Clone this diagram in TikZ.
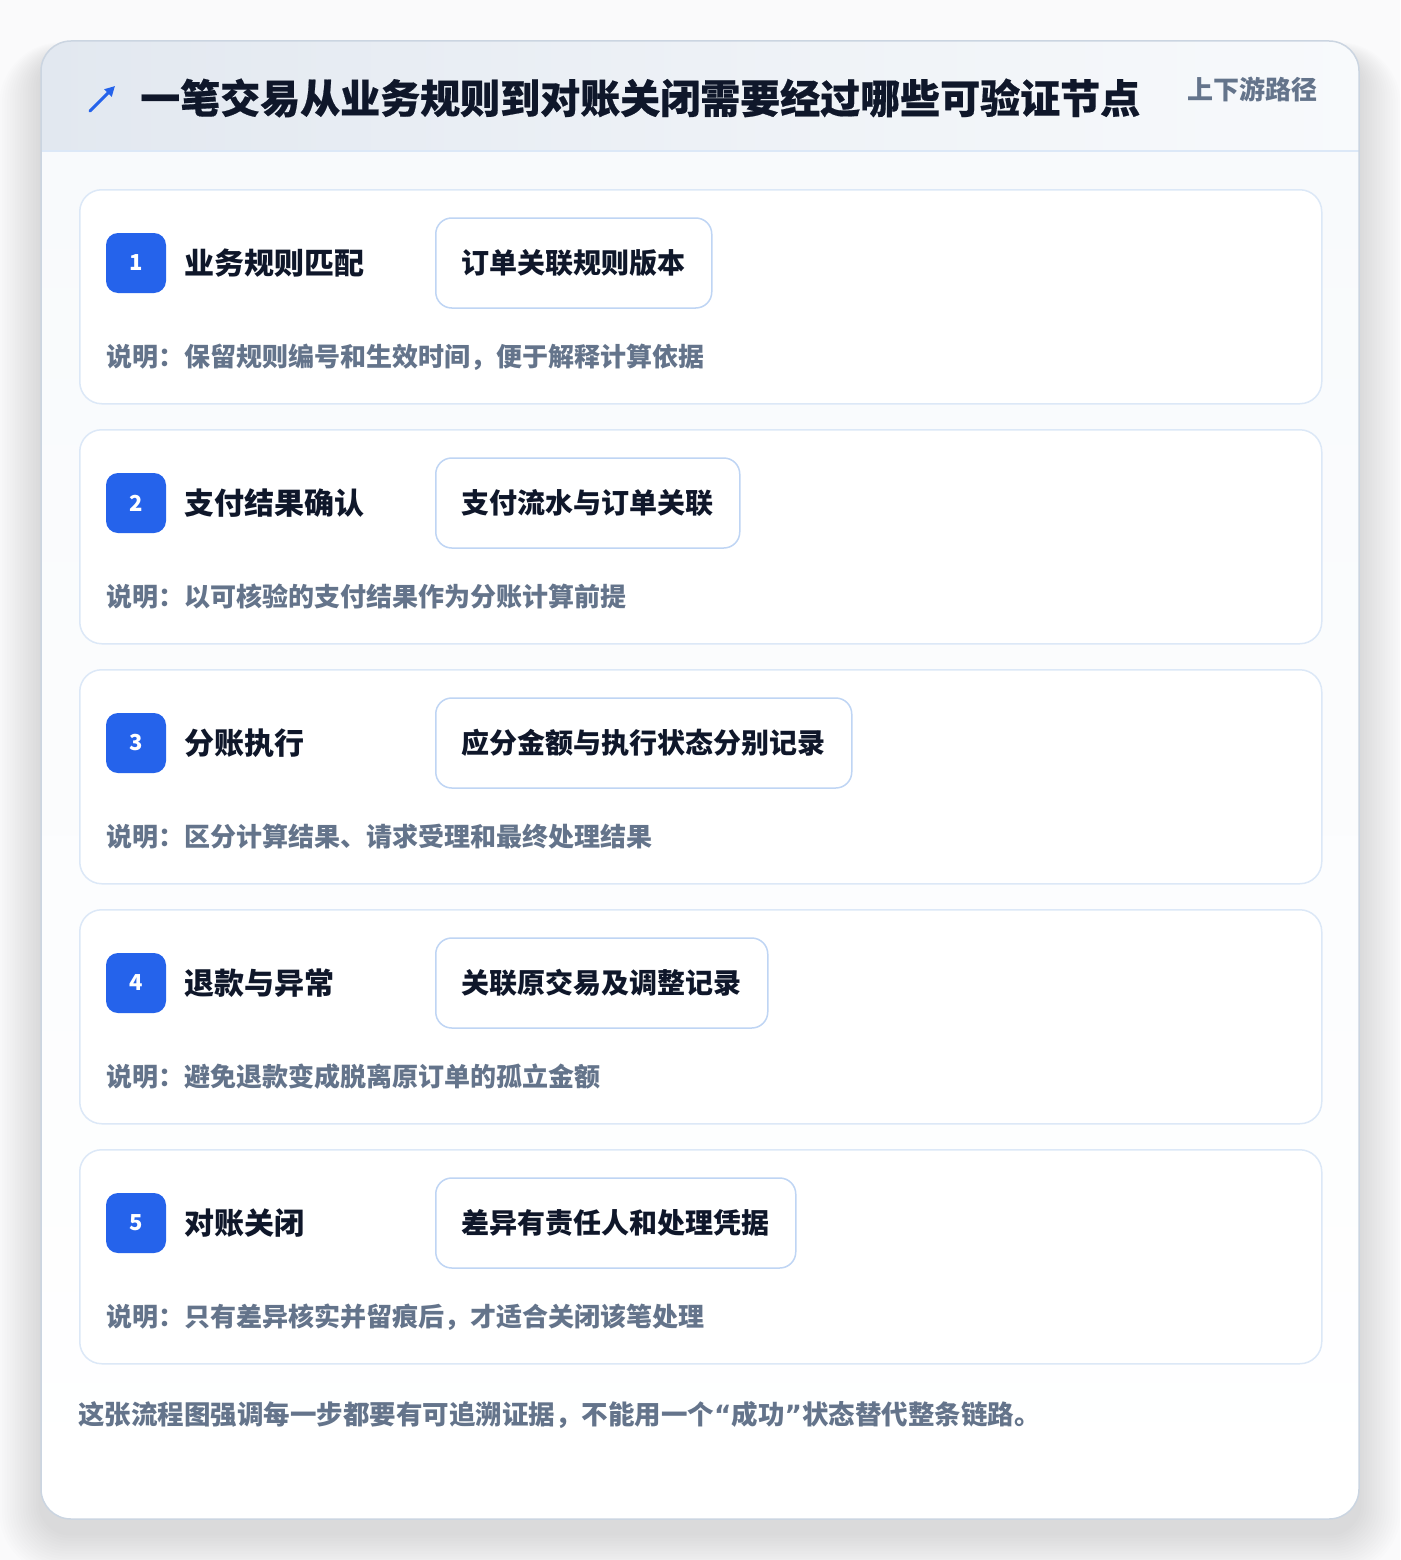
\documentclass[tikz,border=0pt]{standalone}
\usepackage{fontspec}
\setmainfont{Noto Sans CJK SC}
\newfontfamily\heavy{Noto Sans CJK SC}[BoldFeatures={FakeBold=0.5}]
\newfontfamily\symfont{DejaVu Sans}
\usetikzlibrary{arrows.meta}
\definecolor{ink}{HTML}{0F172A}
\definecolor{muted}{HTML}{64748B}
\definecolor{accent}{HTML}{2563EB}
\definecolor{cardline}{HTML}{DCE8F7}
\definecolor{chipline}{HTML}{BFD5F4}
\definecolor{bodybg}{HTML}{F8FAFC}
\definecolor{headL}{HTML}{E2E8F0}
\definecolor{headR}{HTML}{F8FAFC}
\definecolor{outline}{HTML}{CBD5E1}
\definecolor{pagebg}{HTML}{FAFAFB}
\tikzset{
  stepcard/.style={draw=cardline, line width=1.5pt, fill=white, rounded corners=22pt, inner sep=0pt, minimum width=1242pt, minimum height=214pt, anchor=north west},
  badgebox/.style={fill=accent, rounded corners=12pt, minimum width=60pt, minimum height=60pt, inner sep=0pt, text=white, font=\bfseries\fontsize{22pt}{24pt}\selectfont},
  steptitle/.style={anchor=west, inner sep=0pt, text=ink, font=\bfseries\fontsize{30pt}{32pt}\selectfont},
  chipbox/.style={anchor=west, draw=chipline, line width=1.5pt, fill=white, rounded corners=16pt, minimum height=90pt, inner xsep=26pt, text=ink, font=\bfseries\fontsize{28pt}{30pt}\selectfont},
  desctext/.style={anchor=west, inner sep=0pt, text=muted, font=\bfseries\fontsize{26pt}{28pt}\selectfont},
}
\newcommand{\stepcard}[5]{%
  \node[stepcard] (card#1) at (79,#2) {};
  \node[badgebox] (badge#1) at (136,#2+74) {#1};
  \node[steptitle] (title#1) at (184,#2+74) {#3};
  \node[chipbox] (chip#1) at (435,#2+74) {#4};
  \node[desctext] (desc#1) at (106,#2+168) {说明：#5};
}
\begin{document}
\begin{tikzpicture}[x=1pt, y=-1pt]
\useasboundingbox (0,0) rectangle (1400,1560);
\fill[pagebg] (0,0) rectangle (1400,1560);
% card shadow (soft, stronger below)
\foreach \k in {1,...,16}{
  \fill[black, opacity=0.007, rounded corners=30pt+\k*2pt] (41-\k*2.6,41-\k*0.8+14) rectangle (1359+\k*2.6,1519+\k*2.6+14);
}
% main card
\fill[white, rounded corners=30pt] (41,41) rectangle (1359,1519);
\begin{scope}
  \clip[rounded corners=30pt] (41,41) rectangle (1359,1519);
  \shade[top color=bodybg, bottom color=white] (41,151) rectangle (1359,1519);
  \shade[left color=headL, right color=headR] (41,41) rectangle (1359,151);
  \draw[cardline, line width=1.5pt] (41,151) -- (1359,151);
\end{scope}
\draw[outline, line width=1.5pt, rounded corners=30pt] (41,41) rectangle (1359,1519);
% header icon
\coordinate (iconA) at (90,111);
\coordinate (iconB) at (115,86);
\draw[accent, line width=3pt, line cap=round, -{Triangle[length=10pt, width=10pt]}] (iconA) -- (iconB);
\node[anchor=west, inner sep=0pt, text=ink, font=\heavy\bfseries\fontsize{40pt}{42pt}\selectfont] (title) at (140,98) {一笔交易从业务规则到对账关闭需要经过哪些可验证节点};
\node[anchor=east, inner sep=0pt, text=muted, font=\bfseries\fontsize{26pt}{28pt}\selectfont] (tag) at (1318,89) {上下游路径};
% chip shadows
\foreach \y/\w in {262/278,502/306,742/418,982/334,1222/362}{
  \foreach \k in {1,...,7}{
    \fill[black, opacity=0.009, rounded corners=16pt+\k*1.5pt] (435-\k*2,\y-45-\k*1+9) rectangle (435+\w+\k*2,\y+45+\k*2+9);
  }
}
\stepcard{1}{189}{业务规则匹配}{订单关联规则版本}{保留规则编号和生效时间，便于解释计算依据}
\stepcard{2}{429}{支付结果确认}{支付流水与订单关联}{以可核验的支付结果作为分账计算前提}
\stepcard{3}{669}{分账执行}{应分金额与执行状态分别记录}{区分计算结果、请求受理和最终处理结果}
\stepcard{4}{909}{退款与异常}{关联原交易及调整记录}{避免退款变成脱离原订单的孤立金额}
\stepcard{5}{1149}{对账关闭}{差异有责任人和处理凭据}{只有差异核实并留痕后，才适合关闭该笔处理}
\node[anchor=west, inner sep=0pt, text=muted, font=\bfseries\fontsize{26.5pt}{28pt}\selectfont] (footer) at (78,1415) {这张流程图强调每一步都要有可追溯证据，不能用一个{\symfont“}成功{\symfont”}状态替代整条链路。};
\end{tikzpicture}
\end{document}
